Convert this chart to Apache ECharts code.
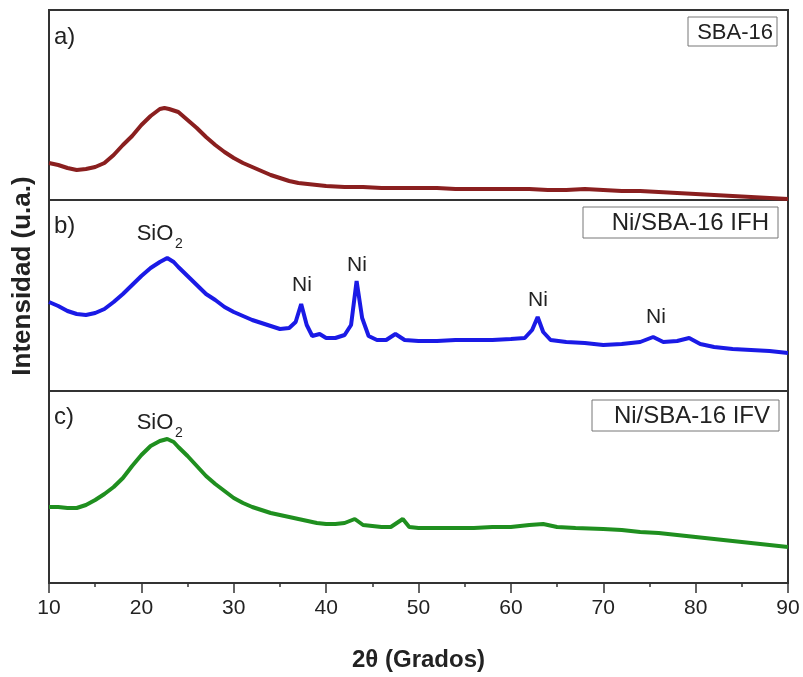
<!DOCTYPE html>
<html>
<head>
<meta charset="utf-8">
<script src="https://cdn.jsdelivr.net/npm/echarts@6/dist/echarts.min.js"></script>
<style>
html,body{margin:0;padding:0;background:#fff;}
#chart{width:803px;height:677px;}
</style>
</head>
<body>
<div id="chart"></div>
<script>
// ---- Data (2θ in degrees, intensity in arbitrary units) ----
const thetaA = [10,11,12,13,14,15,16,17,18,19,20,21,22,22.5,23,24,25,26,27,28,29,30,31,32,33,34,35,36,37,38,39,40,42,44,46,48,50,52,54,56,58,60,62,64,66,68,70,72,74,76,78,80,82,84,86,88,90];
const intensA = [37,35,32,30,31,33,37,45,55,64,75,84,91,92,91,88,80,72,63,55,48,42,37,33,29,25,22,19,17,16,15,14,13,13,12,12,12,12,11,11,11,11,11,10,10,11,10,9,9,8,7,6,5,4,3,2,1];

const thetaB = [10,11,12,13,14,15,16,17,18,19,20,21,22,22.8,23.5,24,25,26,27,28,29,30,31,32,33,34,35,36,36.7,37.3,37.9,38.5,39.3,40,41,42,42.7,43.3,43.9,44.6,45.5,46.5,47.5,48.5,50,52,54,56,58,60,61.5,62.3,62.9,63.5,64.3,66,68,70,72,74,75.4,76.5,78,79.3,80.5,82,84,86,88,90];
const intensB = [89,85,80,77,76,78,82,89,97,106,115,123,129,133,129,124,115,106,97,91,84,79,75,71,68,65,62,63,69,87,66,55,57,53,53,56,66,110,73,55,51,51,57,51,50,50,51,51,51,52,53,61,74,59,51,49,48,46,47,49,54,49,50,53,47,44,42,41,40,38];

const thetaC = [10,11,12,13,14,15,16,17,18,19,20,21,22,22.8,23.5,24,25,26,27,28,29,30,31,32,33,34,35,36,37,38,39,40,41,42,43.1,44,45,46,47,48.3,49,50,52,54,56,58,60,62,63.5,65,67,70,72,74,76,78,80,82,84,86,88,90];
const intensC = [76,76,75,75,78,83,89,96,105,117,128,137,142,144,141,136,127,117,107,99,92,85,80,76,73,70,68,66,64,62,60,59,59,60,64,58,57,56,56,64,56,55,55,55,55,56,56,58,59,56,55,54,53,51,50,48,46,44,42,40,38,36];

const xTicks = [10,20,30,40,50,60,70,80,90];
const panelNames = ['SBA-16','Ni/SBA-16 IFH','Ni/SBA-16 IFV'];
const panelTags = ['a)','b)','c)'];

const pair = (xs, ys) => xs.map((x, i) => [x, ys[i]]);

const chart = echarts.init(document.getElementById('chart'), null, {renderer:'canvas'});
const FONT = 'Liberation Sans, Arial, sans-serif';

const grids = [
  {left:49, right:15, top:10, height:190},
  {left:49, right:15, top:200, height:191},
  {left:49, right:15, top:391, height:192}
].map(g => Object.assign(g, {show:true, borderColor:'#333', borderWidth:2, backgroundColor:'transparent'}));

const xAxes = [0,1,2].map(i => ({
  type:'value', gridIndex:i, min:10, max:90, interval:10,
  show: i === 2,
  axisLine:{show:true, lineStyle:{color:'#333', width:2}},
  axisTick:{show:true, inside:false, length:10, lineStyle:{color:'#333', width:1.5}},
  minorTick:{show:true, splitNumber:2, length:4, lineStyle:{color:'#333', width:1.5}},
  splitLine:{show:false},
  axisLabel:{show:true, margin:15, fontSize:21, color:'#222', fontFamily:FONT,
    formatter: v => xTicks.includes(v) ? String(v) : ''},
  name: i === 2 ? '2θ (Grados)' : '',
  nameLocation:'middle', nameGap:65,
  nameTextStyle:{fontSize:24, fontWeight:'bold', color:'#222', fontFamily:FONT}
}));

const yAxes = [190,191,192].map((h, i) => ({
  type:'value', gridIndex:i, min:0, max:h, show:false
}));

const mk = (i, data, color) => ({
  type:'line', xAxisIndex:i, yAxisIndex:i, data, showSymbol:false, symbol:'none',
  smooth:false, lineStyle:{color, width:4}, animation:false
});

const boxes = [
  {x:688, y:17, w:89, h:29, fs:22, pad:4},
  {x:583, y:207, w:195, h:31, fs:24, pad:9},
  {x:592, y:400, w:187, h:31, fs:24, pad:9}
];

const graphic = [];
boxes.forEach((b, i) => {
  graphic.push({type:'rect', shape:{x:b.x, y:b.y, width:b.w, height:b.h},
    style:{fill:'#fff', stroke:'#777', lineWidth:1}});
  graphic.push({type:'text', x:b.x + b.w - b.pad, y:b.y + b.h/2 + 1,
    style:{text:panelNames[i], font:`${b.fs}px ${FONT}`, fill:'#222', textAlign:'right', textVerticalAlign:'middle'}});
});
[37, 226, 417].forEach((y, i) => {
  graphic.push({type:'text', x:54, y,
    style:{text:panelTags[i], font:`24px ${FONT}`, fill:'#222', textAlign:'left', textVerticalAlign:'middle'}});
});
// SiO2 labels
[[155, 234, 244], [155, 423, 433]].forEach(([x, y, ys]) => {
  graphic.push({type:'text', x, y, style:{text:'SiO', font:`22px ${FONT}`, fill:'#222', textAlign:'center', textVerticalAlign:'middle'}});
  graphic.push({type:'text', x:x+24, y:ys, style:{text:'2', font:`14px ${FONT}`, fill:'#222', textAlign:'center', textVerticalAlign:'middle'}});
});
// Ni labels
[[302,285],[357,265],[538,300],[656,317]].forEach(([x,y]) => {
  graphic.push({type:'text', x, y, style:{text:'Ni', font:`21px ${FONT}`, fill:'#222', textAlign:'center', textVerticalAlign:'middle'}});
});
graphic.push({type:'text', x:23, y:276, rotation:Math.PI/2,
  style:{text:'Intensidad (u.a.)', font:`bold 26px ${FONT}`, fill:'#222', textAlign:'center', textVerticalAlign:'middle'}});

chart.setOption({
  animation:false,
  backgroundColor:'#fff',
  grid:grids,
  xAxis:xAxes,
  yAxis:yAxes,
  series:[
    mk(0, pair(thetaA, intensA), '#8a1f1f'),
    mk(1, pair(thetaB, intensB), '#1a1ae6'),
    mk(2, pair(thetaC, intensC), '#1f8f1f')
  ],
  graphic
});
</script>
</body>
</html>
